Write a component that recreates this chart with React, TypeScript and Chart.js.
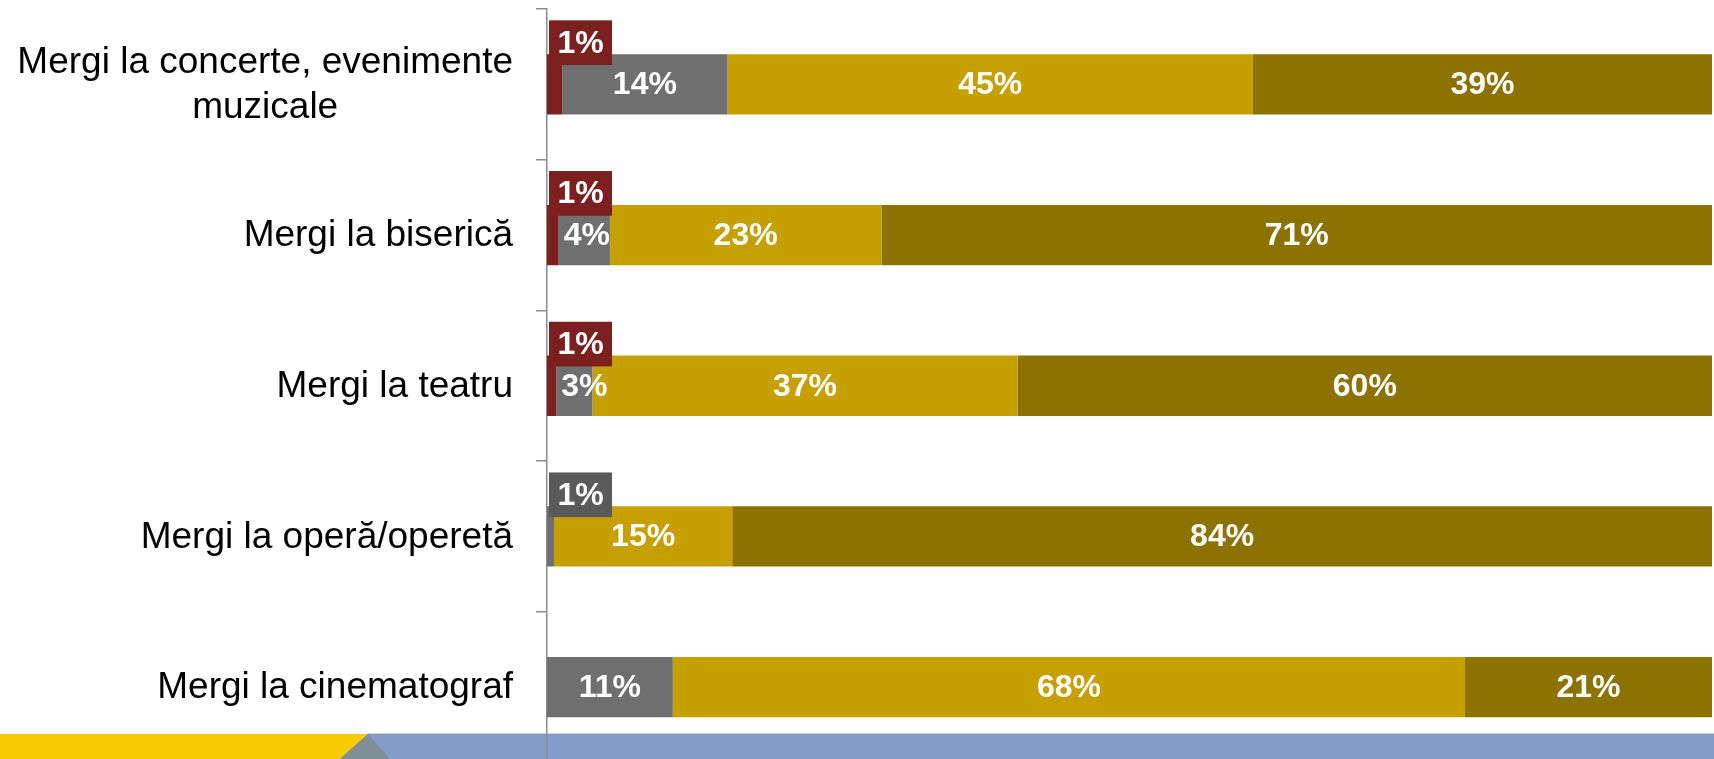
import React, { useEffect, useRef } from "react";
import { Chart, registerables } from "chart.js";

Chart.register(...registerables);

const categories: (string | string[])[] = [
  ["Mergi la concerte, evenimente", "muzicale"],
  "Mergi la biserică",
  "Mergi la teatru",
  "Mergi la operă/operetă",
  "Mergi la cinematograf",
];

const seriesRed = [1.3, 1.0, 0.8, 0, 0];
const seriesGray = [14.2, 4.4, 3.1, 0.6, 10.8];
const seriesGold = [45.1, 23.3, 36.5, 15.3, 68.0];
const seriesDark = [39.4, 71.3, 59.6, 84.1, 21.2];

const seriesColors = ["#7B1F1F", "#6F6F6F", "#C5A000", "#8C7200"];
const calloutColors = ["#7B1F1F", "#5A5A5A", "#C5A000", "#8C7200"];

const W = 1714;
const H = 759;
const CANVAS_H = 772;

const bandPlugin = {
  id: "band",
  beforeDraw(chart: any) {
    const ctx = chart.ctx;
    ctx.save();
    ctx.fillStyle = "#859CCB";
    ctx.fillRect(0, 734, W, CANVAS_H - 734);
    ctx.fillStyle = "#F7CB00";
    ctx.beginPath();
    ctx.moveTo(0, 734);
    ctx.lineTo(368, 734);
    ctx.lineTo(325.4, CANVAS_H);
    ctx.lineTo(0, CANVAS_H);
    ctx.closePath();
    ctx.fill();
    ctx.fillStyle = "#808F94";
    ctx.beginPath();
    ctx.moveTo(368, 734);
    ctx.lineTo(325.4, CANVAS_H);
    ctx.lineTo(401.4, CANVAS_H);
    ctx.closePath();
    ctx.fill();
    ctx.fillStyle = "#C9D3E6";
    ctx.fillRect(368, 733, W - 368, 1);
    ctx.restore();
  },
};

const labelsPlugin = {
  id: "valueLabels",
  afterDatasetsDraw(chart: any) {
    const ctx = chart.ctx;
    const area = chart.chartArea;
    ctx.save();
    ctx.font = "bold 32px 'Liberation Sans', Arial, sans-serif";
    ctx.textBaseline = "middle";
    chart.data.datasets.forEach((ds: any, di: number) => {
      const meta = chart.getDatasetMeta(di);
      meta.data.forEach((el: any, i: number) => {
        const v = ds.data[i];
        if (!v || v <= 0) return;
        const text = Math.round(v) + "%";
        if (v < 2) {
          const bx = area.left + 2;
          const bw = 63;
          const top = el.y - 64;
          const bh = 44.7;
          ctx.fillStyle = calloutColors[di];
          ctx.fillRect(bx, top, bw, bh);
          ctx.fillStyle = "#FFFFFF";
          ctx.textAlign = "center";
          ctx.fillText(text, bx + bw / 2, top + bh / 2 + 1);
        } else {
          ctx.fillStyle = "#FFFFFF";
          const tw = ctx.measureText(text).width;
          const segW = el.x - el.base;
          if (tw + 8 > segW) {
            ctx.textAlign = "left";
            ctx.fillText(text, el.base + 5, el.y + 1);
          } else {
            ctx.textAlign = "center";
            ctx.fillText(text, (el.base + el.x) / 2, el.y + 1);
          }
        }
      });
    });
    ctx.restore();
  },
  afterDraw(chart: any) {
    const ctx = chart.ctx;
    const yScale = chart.scales.y;
    ctx.save();
    ctx.font = "37px 'Liberation Sans', Arial, sans-serif";
    ctx.fillStyle = "#000000";
    ctx.textAlign = "center";
    ctx.textBaseline = "middle";
    const right = 513;
    const lineH = 45;
    categories.forEach((lab, i) => {
      const lines = Array.isArray(lab) ? lab : [lab];
      const widest = Math.max(...lines.map((l) => ctx.measureText(l).width));
      const cx = right - widest / 2;
      const cy = yScale.getPixelForValue(i);
      const startY = cy - ((lines.length - 1) * lineH) / 2;
      lines.forEach((l, li) => {
        ctx.fillText(l, cx, startY + li * lineH + 1);
      });
    });
    ctx.restore();
  },
};

export default function App() {
  const ref = useRef<HTMLCanvasElement | null>(null);

  useEffect(() => {
    if (!ref.current) return;
    const chart = new Chart(ref.current, {
      type: "bar",
      data: {
        labels: categories.map((c) => (Array.isArray(c) ? c.join(" ") : c)),
        datasets: [seriesRed, seriesGray, seriesGold, seriesDark].map((d, i) => ({
          data: d,
          backgroundColor: seriesColors[i],
          borderWidth: 0,
          categoryPercentage: 0.8,
          barPercentage: 0.5,
        })),
      },
      options: {
        indexAxis: "y",
        responsive: false,
        animation: false,
        devicePixelRatio: 1,
        layout: { padding: { top: 9, right: 2, bottom: CANVAS_H - 762.5, left: 0 } },
        plugins: {
          legend: { display: false },
          tooltip: { enabled: false },
          title: { display: false },
        },
        scales: {
          x: {
            stacked: true,
            min: 0,
            max: 100,
            display: false,
          },
          y: {
            stacked: true,
            offset: true,
            ticks: { display: false },
            grid: {
              offset: true,
              drawOnChartArea: false,
              drawTicks: true,
              tickLength: 11,
              color: "#8C8C8C",
              lineWidth: 1.5,
            },
            border: { display: true, color: "#8C8C8C", width: 1.5 },
            afterFit(scale: any) {
              scale.width = 547;
            },
          },
        },
      },
      plugins: [bandPlugin, labelsPlugin],
    });
    return () => chart.destroy();
  }, []);

  return (
    <div
      style={{
        position: "absolute",
        left: 0,
        top: 0,
        width: W,
        height: H,
        overflow: "hidden",
        background: "#FFFFFF",
      }}
    >
      <canvas ref={ref} width={W} height={CANVAS_H} style={{ display: "block" }} />
    </div>
  );
}
